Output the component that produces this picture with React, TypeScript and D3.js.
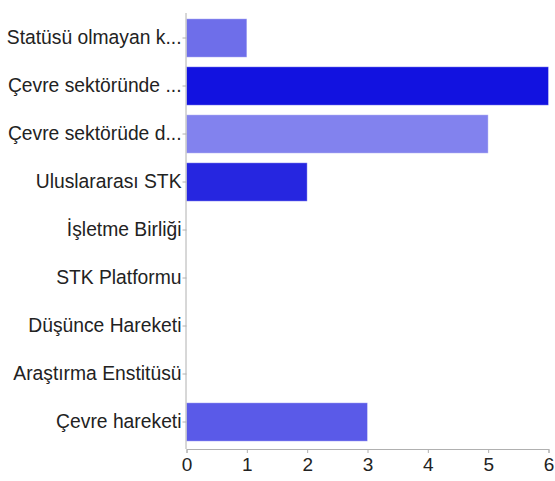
import React, { useRef, useEffect } from 'react';
import * as d3 from 'd3';

const categories = [
  'Statüsü olmayan k...',
  'Çevre sektöründe ...',
  'Çevre sektörüde d...',
  'Uluslararası STK',
  'İşletme Birliği',
  'STK Platformu',
  'Düşünce Hareketi',
  'Araştırma Enstitüsü',
  'Çevre hareketi',
];
const values = [1, 6, 5, 2, 0, 0, 0, 0, 3];
const barColors = ['#6e6eea', '#1212e0', '#8282ee', '#2626e0', '#5a5ae8', '#5a5ae8', '#5a5ae8', '#5a5ae8', '#5a5ae8'];
const xTicks = [0, 1, 2, 3, 4, 5, 6];

const App: React.FC = () => {
  const ref = useRef<SVGSVGElement>(null);

  useEffect(() => {
    const svg = d3.select(ref.current);
    svg.selectAll('*').remove();

    const x = d3.scaleLinear().domain([0, 6]).range([186.5, 548.5]);
    const y = d3
      .scaleBand<string>()
      .domain(categories)
      .range([14, 446])
      .paddingInner(0.2)
      .paddingOuter(0.1);

    const font = '"Liberation Sans", Arial, sans-serif';
    const axisColor = '#b0b0b0';

    // bars
    svg
      .append('g')
      .selectAll('rect')
      .data(categories)
      .enter()
      .append('rect')
      .attr('x', x(0))
      .attr('y', d => y(d)!)
      .attr('width', (d, i) => x(values[i]) - x(0))
      .attr('height', y.bandwidth())
      .attr('fill', (d, i) => barColors[i])
      .attr('stroke', (d, i) => (values[i] > 0 ? 'rgba(255,255,255,0.35)' : 'none'))
      .attr('stroke-width', 1);

    // y axis
    const yAxis = svg
      .append('g')
      .attr('transform', `translate(${x(0)},0)`)
      .call(d3.axisLeft(y).tickSize(4).tickPadding(1));
    yAxis.select('.domain').attr('stroke', axisColor).attr('d', `M-0.5,13V449`);
    yAxis.selectAll('.tick line').attr('stroke', axisColor);
    yAxis
      .selectAll('.tick text')
      .attr('fill', '#222')
      .style('font-family', font)
      .style('font-size', '19.3px');

    // x axis
    const xAxis = svg
      .append('g')
      .attr('transform', 'translate(0,449)')
      .call(d3.axisBottom(x).tickValues(xTicks).tickSize(4).tickPadding(5).tickFormat(d3.format('d')));
    xAxis.select('.domain').attr('stroke', axisColor);
    xAxis.selectAll('.tick line').attr('stroke', axisColor);
    xAxis
      .selectAll('.tick text')
      .attr('fill', '#222')
      .style('font-family', font)
      .style('font-size', '19px');
  }, []);

  return (
    <svg
      ref={ref}
      width={555}
      height={481}
      style={{ position: 'absolute', left: 0, top: 0, background: '#fff' }}
    />
  );
};

export default App;
